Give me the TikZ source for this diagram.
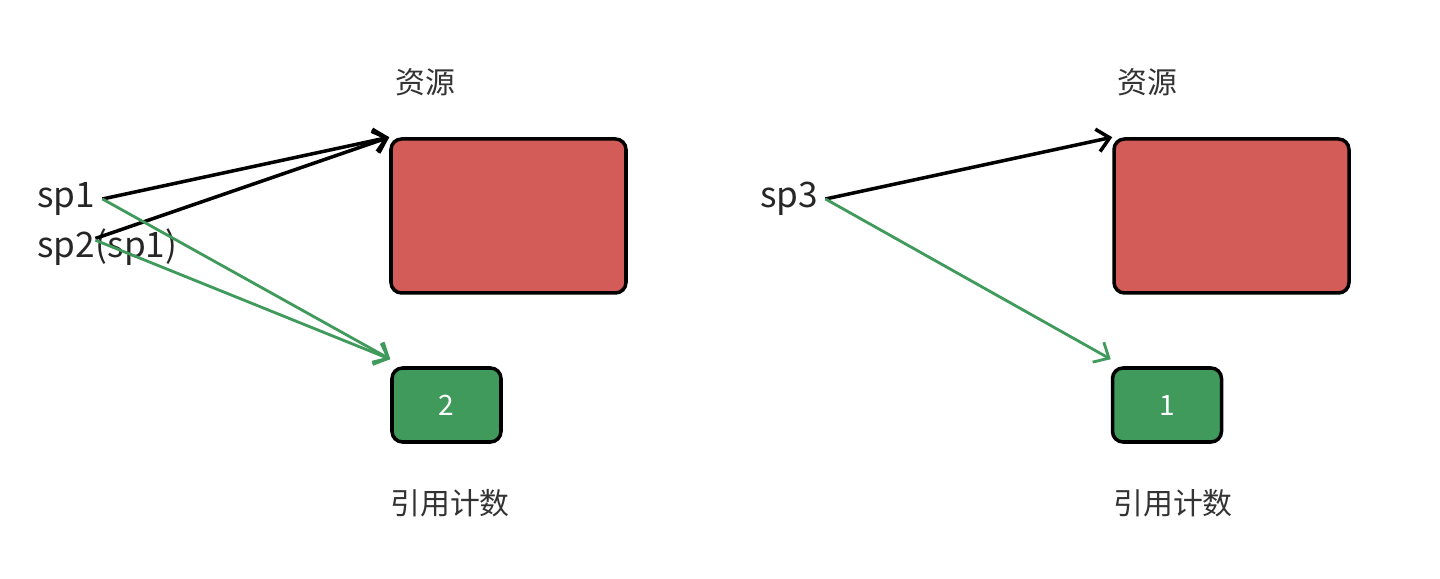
\documentclass[tikz,border=0pt]{standalone}
\usepackage{fontspec}
\setmainfont{Noto Sans CJK SC}
\usetikzlibrary{arrows.meta}

\definecolor{resred}{HTML}{D35B58}
\definecolor{cntgreen}{HTML}{3F9A5B}
\definecolor{capgray}{HTML}{333333}

\begin{document}
\begin{tikzpicture}[
  resbox/.style={draw=black, line width=2pt, rounded corners=6pt, fill=resred,
    minimum width=4.7cm, minimum height=3.08cm, inner sep=0pt},
  cntbox/.style={draw=black, line width=2pt, rounded corners=6pt, fill=cntgreen,
    minimum width=2.18cm, minimum height=1.48cm, text=white,
    font=\fontsize{16}{18}\selectfont},
  captext/.style={text=capgray, font=\fontsize{17}{20}\selectfont},
  ptr/.style={text=black!85, font=\fontsize{20}{24}\selectfont, inner sep=0pt},
  refarrow/.style={draw=black, line width=2pt, -{Straight Barb[length=7pt,width=13pt]}},
  cntarrow/.style={draw=cntgreen, line width=1.6pt, -{Straight Barb[length=7pt,width=13pt]}}
]
\fill[white] (0,0) rectangle (28.8,11.58);

% left: sp1 and its copy sp2
\node[captext] (res1cap) at (8.5,9.94) {资源};
\node[resbox] (res1) at (10.17,7.26) {};
\node[cntbox] (cnt1) at (8.93,3.48) {2};
\node[captext] (cnt1cap) at (9.0,1.52) {引用计数};

\node[ptr, anchor=west] (sp1) at (0.74,7.6) {sp1};
\node[ptr, anchor=west] (sp2) at (0.74,6.6) {sp2};
\node[ptr, anchor=base west] (sp2tail) at (sp2.base east) {(sp1)};

\draw[refarrow] ([xshift=4pt]sp1.east) -- (res1.north west);
\draw[refarrow] ([yshift=6pt]sp2.east) -- (res1.north west);
\draw[cntarrow] ([xshift=4pt]sp1.east) -- ([yshift=4pt]cnt1.north west);
\draw[cntarrow] ([yshift=5pt]sp2.east) -- ([yshift=4pt]cnt1.north west);

% right: sp3 alone
\node[captext] (res2cap) at (22.94,9.94) {资源};
\node[resbox] (res2) at (24.63,7.26) {};
\node[cntbox] (cnt2) at (23.34,3.48) {1};
\node[captext] (cnt2cap) at (23.46,1.52) {引用计数};

\node[ptr, anchor=west] (sp3) at (15.2,7.6) {sp3};

\draw[refarrow] ([xshift=4pt]sp3.east) -- (res2.north west);
\draw[cntarrow] ([xshift=4pt]sp3.east) -- ([yshift=4pt]cnt2.north west);
\end{tikzpicture}
\end{document}
